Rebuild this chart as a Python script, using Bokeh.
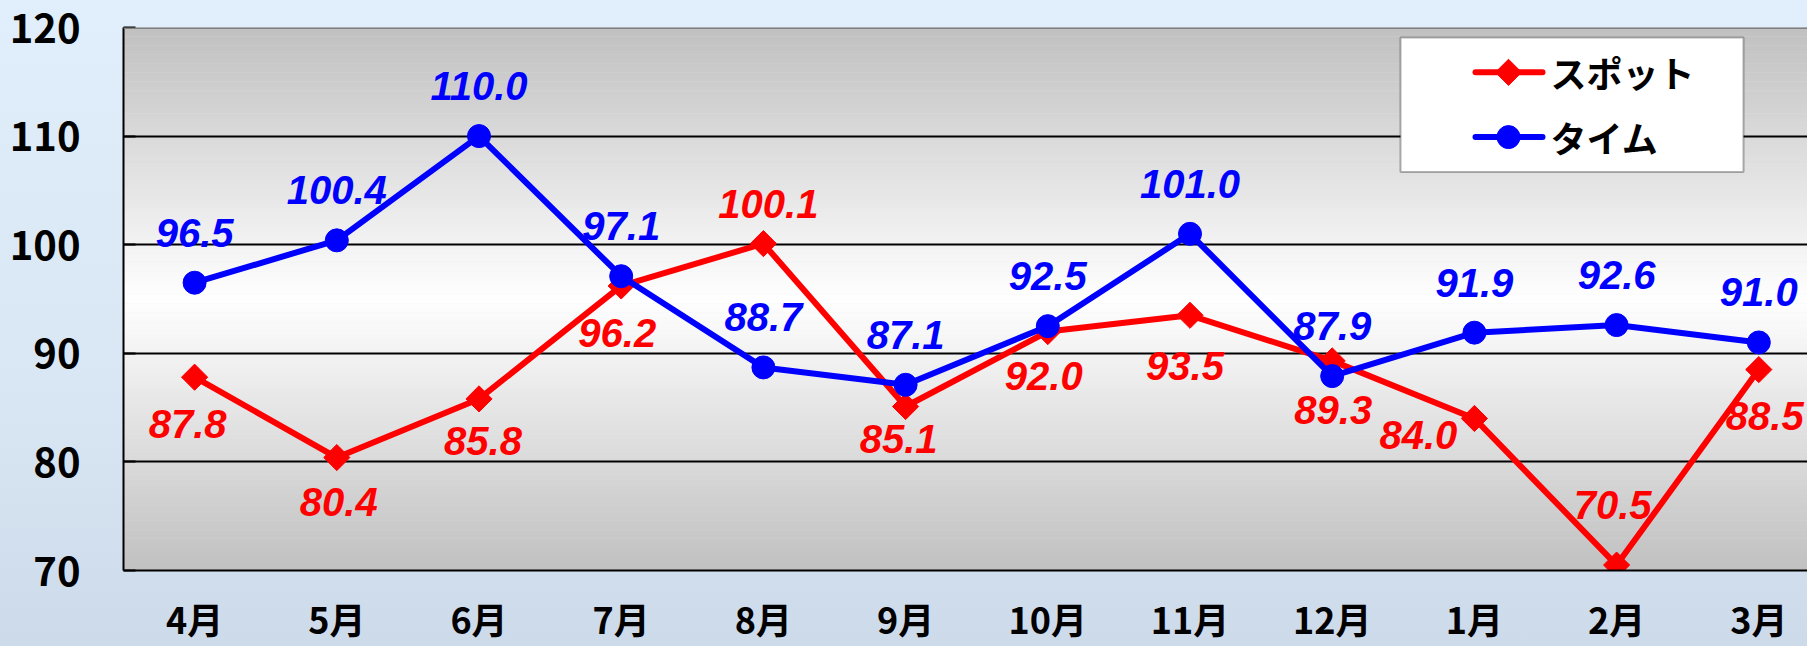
import math
from bokeh.plotting import figure
from bokeh.models import FixedTicker, Span, BoxAnnotation, ColumnDataSource
from bokeh.core.properties import value
from bokeh.embed import file_html
from bokeh.resources import INLINE

# ---------------- data ----------------
months = ["4月", "5月", "6月", "7月", "8月", "9月", "10月", "11月", "12月", "1月", "2月", "3月"]
spot = [87.8, 80.4, 85.8, 96.2, 100.1, 85.1, 92.0, 93.5, 89.3, 84.0, 70.5, 88.5]
time_vals = [96.5, 100.4, 110.0, 97.1, 88.7, 87.1, 92.5, 101.0, 87.9, 91.9, 92.6, 91.0]
y_ticks = [70, 80, 90, 100, 110, 120]
series_names = ["スポット", "タイム"]

# ---------------- label placement (screen px, style only) ----------------
spot_dx = [-7, 2, 4, -4, 5, -7, -4, -5, 1, -56, -4, 6]
spot_dy = [47, 44, 42, 47, -40, 32, 44, 51, 49, 17, -60, 46]
time_dx = [0] * len(months)
time_dy = [-50] * len(months)

RED = "#ff0000"
BLUE = "#0000ff"
CJK = "Noto Sans CJK JP"
NUM_FONT = "Liberation Sans"

W, H = 1807, 646
LEFT, TOP, BOTTOM = 123, 27, 74
STEP = 142.2            # px per category
frame_w = W - LEFT
frame_h = H - TOP - BOTTOM
x_start = -0.5
x_end = x_start + frame_w / STEP
y0, y1 = y_ticks[0], y_ticks[-1]

p = figure(width=W, height=H, x_range=(x_start, x_end), y_range=(y0, y1),
           output_backend="svg", toolbar_location=None,
           min_border_left=LEFT, min_border_top=TOP,
           min_border_right=0, min_border_bottom=BOTTOM,
           styles={"background": "linear-gradient(180deg, #e0effb 0%, #d9e6f3 60%, #cddaea 100%)"})
p.border_fill_alpha = 0
p.background_fill_alpha = 0
p.outline_line_color = None

# frame gradient (grey -> white -> grey)
N = 120
for k in range(N):
    b = y0 + (y1 - y0) * k / N
    t = y0 + (y1 - y0) * (k + 1) / N
    m = (k + 0.5) / N
    g = int(round(192 + 63 * (1 - abs(m - 0.5) * 2)))
    p.add_layout(BoxAnnotation(bottom=b, top=t + 0.03, fill_color=(g, g, g),
                               fill_alpha=1, line_color=None, level="image"))

# grid
p.xgrid.visible = False
p.ygrid.ticker = FixedTicker(ticks=y_ticks[1:-1])
p.ygrid.grid_line_color = "black"
p.ygrid.grid_line_width = 2

# top border of the plot area
p.add_layout(Span(location=y1, dimension="width", line_color="#7f7f7f",
                  line_width=3))

# axes
p.yaxis.ticker = FixedTicker(ticks=y_ticks)
p.yaxis.axis_line_color = "black"
p.yaxis.axis_line_width = 2
p.yaxis.major_tick_in = 12
p.yaxis.major_tick_out = 0
p.yaxis.major_tick_line_width = 2
p.yaxis.minor_tick_line_color = None
p.yaxis.major_label_standoff = 43
p.yaxis.major_label_text_font = CJK
p.yaxis.major_label_text_font_style = "bold"
p.yaxis.major_label_text_font_size = "40px"
p.yaxis.major_label_text_color = "black"

p.xaxis.ticker = FixedTicker(ticks=list(range(len(months))))
p.xaxis.major_label_overrides = {i: m for i, m in enumerate(months)}
p.xaxis.axis_line_color = "black"
p.xaxis.axis_line_width = 2
p.xaxis.major_tick_in = 0
p.xaxis.major_tick_out = 0
p.xaxis.minor_tick_line_color = None
p.xaxis.major_label_standoff = 21
p.xaxis.major_label_text_font = CJK
p.xaxis.major_label_text_font_style = "bold"
p.xaxis.major_label_text_font_size = "36px"
p.xaxis.major_label_text_color = "black"

src = ColumnDataSource(dict(
    x=list(range(len(months))),
    spot=spot, time=time_vals,
    spot_lbl=[f"{v:.1f}" for v in spot],
    time_lbl=[f"{v:.1f}" for v in time_vals],
    spot_dx=spot_dx, spot_dy=spot_dy,
    time_dx=time_dx, time_dy=time_dy,
))

DIAMOND = dict(marker="square", size=18.5, angle=math.pi / 4, fill_color=RED, line_color=RED)
DOT = dict(marker="circle", size=23, fill_color=BLUE, line_color=BLUE)

p.line("x", "spot", source=src, line_color=RED, line_width=6)
p.scatter("x", "spot", source=src, **DIAMOND)
p.line("x", "time", source=src, line_color=BLUE, line_width=6)
p.scatter("x", "time", source=src, **DOT)

label_style = dict(text_font=value(NUM_FONT), text_font_style="bold italic",
                   text_font_size="40px", text_align="center", text_baseline="middle")
p.text("x", "spot", text="spot_lbl", source=src, x_offset="spot_dx", y_offset="spot_dy",
       text_color=RED, **label_style)
p.text("x", "time", text="time_lbl", source=src, x_offset="time_dx", y_offset="time_dy",
       text_color=BLUE, **label_style)

# ---------------- legend (drawn by hand, pixel geometry inside frame) ----------------
def px_to_x(px):
    return x_start + px / STEP


def py_to_y(py):
    return y1 - py * (y1 - y0) / frame_h


p.add_layout(BoxAnnotation(left=px_to_x(1277), right=px_to_x(1620),
                           top=py_to_y(10), bottom=py_to_y(145),
                           fill_color="white", fill_alpha=1,
                           line_color="black", line_width=2, level="underlay"))

row_y = [py_to_y(45), py_to_y(110)]
lx0, lx1, lxm, lxt = px_to_x(1352), px_to_x(1419), px_to_x(1385), px_to_x(1427)

p.segment(x0=[lx0], y0=[row_y[0]], x1=[lx1], y1=[row_y[0]],
          line_color=RED, line_width=6, line_cap="round")
p.segment(x0=[lx0], y0=[row_y[1]], x1=[lx1], y1=[row_y[1]],
          line_color=BLUE, line_width=6, line_cap="round")
p.scatter(x=[lxm], y=[row_y[0]], **DIAMOND)
p.scatter(x=[lxm], y=[row_y[1]], **DOT)
p.text(x=[lxt, lxt], y=row_y, text=series_names, text_font=value(CJK),
       text_font_style="bold", text_font_size="36px", text_color="black",
       text_align="left", text_baseline="middle")

open("out.html", "w").write(file_html(p, INLINE))
